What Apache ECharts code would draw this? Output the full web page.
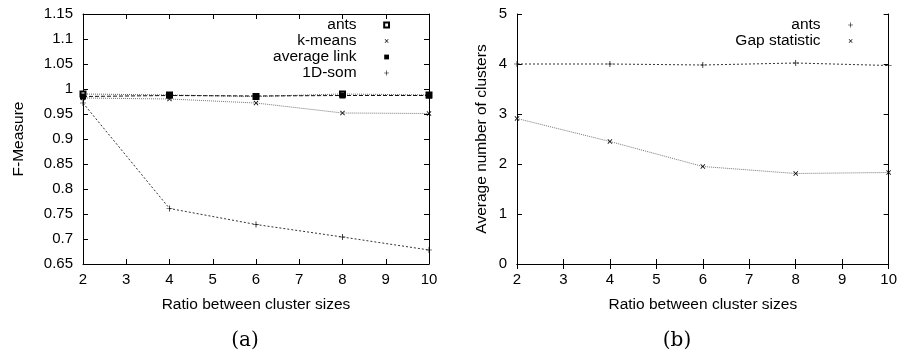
<!DOCTYPE html>
<html><head><meta charset="utf-8">
<script src="https://cdn.jsdelivr.net/npm/echarts@6/dist/echarts.min.js"></script>
<style>html,body{margin:0;padding:0;background:#fff}#c{width:900px;height:354px}</style>
</head><body><div id="c"></div>
<script>
const ratios = [2, 4, 6, 8, 10];
const antsF = [0.990, 0.988, 0.985, 0.990, 0.988];
const kmeansF = [0.982, 0.980, 0.972, 0.952, 0.951];
const avgLinkF = [0.985, 0.987, 0.986, 0.987, 0.987];
const somF = [0.972, 0.761, 0.729, 0.704, 0.678];
const antsK = [4.00, 4.00, 3.98, 4.02, 3.97];
const gapK = [2.91, 2.45, 1.95, 1.81, 1.83];
const labelsA = ['ants', 'k-means', 'average link', '1D-som'];
const labelsB = ['ants', 'Gap statistic'];

const PLUS = 'path://M4.4,0H5.6V4.4H10V5.6H5.6V10H4.4V5.6H0V4.4H4.4Z';
const font = 'Liberation Sans, Arial, sans-serif';
const chart = echarts.init(document.getElementById('c'));

function pts(ys){ return ratios.map((x,i)=>[x, ys[i]]); }

function axisCommon(show){
  return {
    axisLine:{show:true,lineStyle:{color:'#000',width:1}},
    axisTick:{show:true,inside:true,length:5,lineStyle:{color:'#000'}},
    splitLine:{show:false},
    axisLabel:{show:show,color:'#000',fontFamily:font,fontSize:15},
  };
}
const nameStyle = {color:'#000',fontFamily:font,fontSize:15.5};

const grids = [
  {left:83, right:471, top:14, bottom:90},
  {left:517, right:9, top:14, bottom:90}
];

const xAxes = [], yAxes = [];
[0,1].forEach(g=>{
  xAxes.push(Object.assign(axisCommon(true),{gridIndex:g,type:'value',min:2,max:10,interval:1,position:'bottom',
    name:'Ratio between cluster sizes',nameLocation:'middle',nameGap:33,
    nameTextStyle:nameStyle,axisLabel:{color:'#000',fontFamily:font,fontSize:15,margin:8}}));
  xAxes.push(Object.assign(axisCommon(false),{gridIndex:g,type:'value',min:2,max:10,interval:1,position:'top'}));
});
yAxes.push(Object.assign(axisCommon(true),{gridIndex:0,type:'value',min:0.65,max:1.15,interval:0.05,position:'left',
  name:'F-Measure',nameLocation:'middle',nameGap:56,nameTextStyle:nameStyle,
  axisLabel:{color:'#000',fontFamily:font,fontSize:15,margin:10}}));
yAxes.push(Object.assign(axisCommon(false),{gridIndex:0,type:'value',min:0.65,max:1.15,interval:0.05,position:'right'}));
yAxes.push(Object.assign(axisCommon(true),{gridIndex:1,type:'value',min:0,max:5,interval:1,position:'left',
  name:'Average number of clusters',nameLocation:'middle',nameGap:27,nameTextStyle:nameStyle,
  axisLabel:{color:'#000',fontFamily:font,fontSize:15,margin:10}}));
yAxes.push(Object.assign(axisCommon(false),{gridIndex:1,type:'value',min:0,max:5,interval:1,position:'right'}));

function ser(name, ys, xi, yi, symbol, size, rot, lineType, color){
  return {name, type:'line', xAxisIndex:xi, yAxisIndex:yi, data:pts(ys), symbol, symbolSize:size,
    symbolRotate:rot, showAllSymbol:true, animation:false,
    lineStyle:{color:color,width:1,type:lineType},
    itemStyle:{color:'#000',borderColor:'#000',borderWidth:symbol==='emptyRect'?1:0}};
}

const series = [
  ser('ants', antsF, 0, 0, 'emptyRect', 5, 0, 'dotted', '#666'),
  ser('k-means', kmeansF, 0, 0, PLUS, 6, 45, 'dotted', '#777'),
  ser('average link', avgLinkF, 0, 0, 'rect', 6, 0, [4,2], '#111'),
  ser('1D-som', somF, 0, 0, PLUS, 6, 0, [2,2], '#333'),
  ser('ants ', antsK, 2, 2, PLUS, 6, 0, [2,2], '#333'),
  ser('Gap statistic', gapK, 2, 2, PLUS, 6, 45, 'dotted', '#777'),
];

const legendStyle = {orient:'vertical', align:'right', itemGap:0, itemWidth:6, itemHeight:6,
  lineStyle:{opacity:0, width:0}, symbolRotate:'inherit',
  textStyle:{color:'#000',fontFamily:font,fontSize:15.5,lineHeight:16,padding:[0,22,0,0]}, selectedMode:false};

chart.setOption({
  backgroundColor:'#fff',
  animation:false,
  grid: grids,
  xAxis: xAxes,
  yAxis: yAxes,
  series: series,
  legend:[
    Object.assign({}, legendStyle, {data:labelsA.map(n=>({name:n})), right:505, top:12,
      formatter: n=>n}),
    Object.assign({}, legendStyle, {data:[{name:'ants '},{name:'Gap statistic'}], right:41, top:12,
      formatter: n=>n.trim()})
  ],
  title:[
    {text:'(a)', left:240, top:326, textAlign:'center', textStyle:{fontFamily:'DejaVu Serif, Liberation Serif, serif',fontWeight:'normal',fontSize:20,color:'#000'}},
    {text:'(b)', left:672, top:326, textAlign:'center', textStyle:{fontFamily:'DejaVu Serif, Liberation Serif, serif',fontWeight:'normal',fontSize:20,color:'#000'}}
  ]
});
</script></body></html>
